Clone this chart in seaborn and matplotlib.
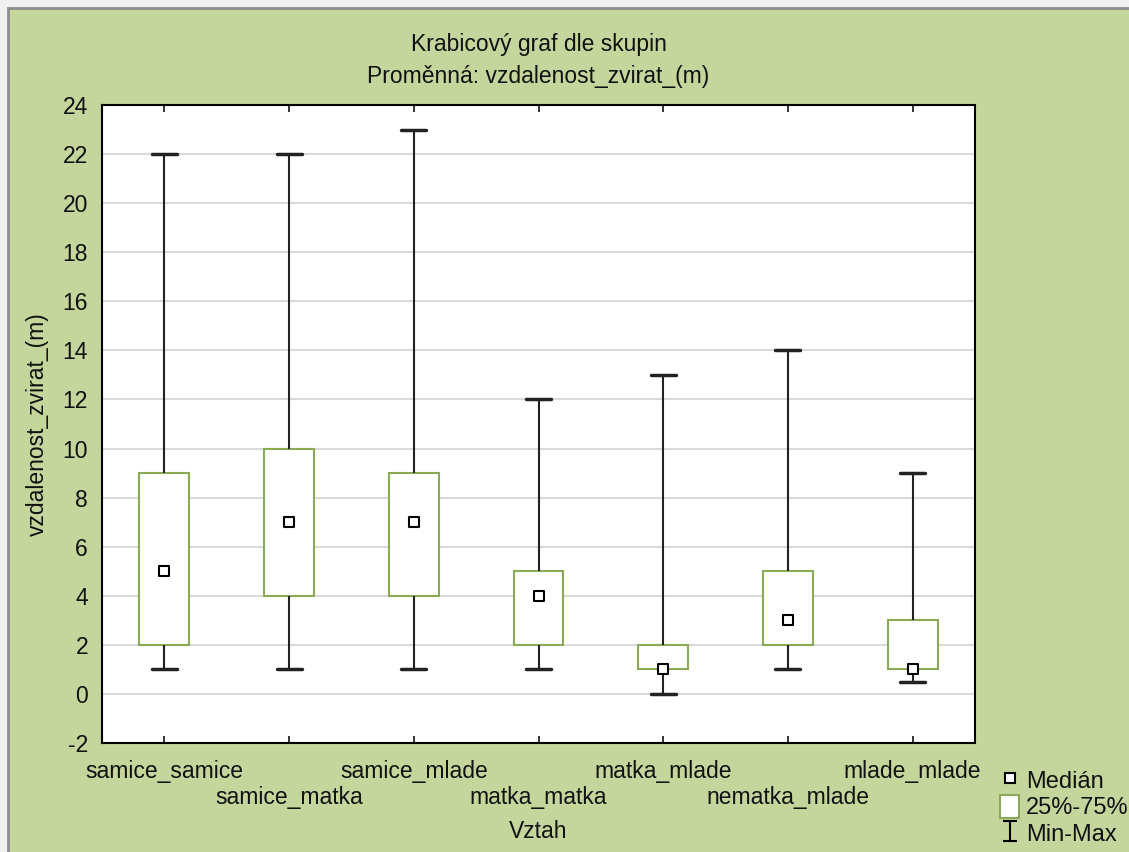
import numpy as np
import pandas as pd
import matplotlib
matplotlib.use("Agg")
import matplotlib.pyplot as plt
from matplotlib.lines import Line2D
from matplotlib.patches import Patch, Rectangle
from matplotlib.path import Path
import seaborn as sns

# group summaries (min, q1, median, q3, max)
groups = ["samice_samice", "samice_matka", "samice_mlade", "matka_matka",
          "matka_mlade", "nematka_mlade", "mlade_mlade"]
mins = [1, 1, 1, 1, 0, 1, 0.5]
q1s = [2, 4, 4, 2, 1, 2, 1]
medians = [5, 7, 7, 4, 1, 3, 1]
q3s = [9, 10, 9, 5, 2, 5, 3]
maxs = [22, 22, 23, 12, 13, 14, 9]
yticks = list(range(-2, 25, 2))

BG = "#c5d69d"
BOX_EDGE = "#8aaa55"


def main():
    # five values per group -> quartiles of these equal the summary exactly
    rows = []
    for g, a, b, c, d, e in zip(groups, mins, q1s, medians, q3s, maxs):
        for v in (a, b, c, d, e):
            rows.append({"Vztah": g, "value": v})
    df = pd.DataFrame(rows)

    sns.set_theme(style="white")
    plt.rcParams["font.family"] = ["Liberation Sans", "DejaVu Sans"]
    plt.rcParams["axes.unicode_minus"] = False
    plt.rcParams["text.color"] = "#111111"
    plt.rcParams["axes.labelcolor"] = "#111111"

    fig = plt.figure(figsize=(11.29, 8.52), dpi=100)
    fig.patch.set_facecolor("#f0f0f0")
    # green panel with grey frame on left/top
    fig.patches.append(Rectangle((8 / 1129, -0.1), 1.2, 1.1 - 8 / 852,
                                 transform=fig.transFigure, facecolor=BG,
                                 edgecolor="#8c8c8c", linewidth=2, zorder=-10))
    ax = fig.add_axes([102 / 1129, 1 - 743 / 852, (975 - 102) / 1129, (743 - 105) / 852])
    ax.set_facecolor("white")

    sns.boxplot(data=df, x="Vztah", y="value", order=groups, whis=(0, 100),
                width=0.4, color="white", linecolor="black", linewidth=1.5,
                boxprops=dict(edgecolor=BOX_EDGE, facecolor="white", linewidth=1.5),
                whiskerprops=dict(color="#222222", linewidth=1.5),
                capprops=dict(color="#222222", linewidth=2.5),
                medianprops=dict(visible=False), ax=ax, zorder=3)

    sns.stripplot(x=groups, y=medians, order=groups, jitter=False, marker="s",
                  size=7, color="white", edgecolor="black", linewidth=1.5,
                  ax=ax, zorder=6)

    ax.set_xlim(-0.5, len(groups) - 0.5)
    ax.set_ylim(-2, 24)
    ax.set_yticks(yticks)
    for y in yticks[1:-1]:
        ax.axhline(y, color="#dadada", linewidth=1.5, zorder=1)

    ax.set_xticks(range(len(groups)))
    ax.set_xticklabels(groups, fontsize=16.5)
    ax.tick_params(axis="x", direction="in", top=True, bottom=True, length=5,
                   width=1.2, pad=12, colors="#111111")
    ax.tick_params(axis="y", direction="in", left=True, right=True, length=5,
                   width=1.2, pad=10, labelsize=16.5, colors="#111111")
    # staggered category labels
    for i, tick in enumerate(ax.xaxis.get_major_ticks()):
        if i % 2 == 1:
            tick.set_pad(31)
    for s in ax.spines.values():
        s.set_color("black")
        s.set_linewidth(1.5)

    ax.set_xlabel("Vztah", fontsize=16.5, labelpad=8)
    ax.set_ylabel("vzdalenost_zvirat_(m)", fontsize=16.5, labelpad=10)
    ax.set_title("Krabicový graf dle skupin\nProměnná: vzdalenost_zvirat_(m)",
                 fontsize=16.5, linespacing=1.5, pad=16)

    whisk = Path([(0, -1), (0, 1), (-0.7, -1), (0.7, -1), (-0.7, 1), (0.7, 1)],
                 [Path.MOVETO, Path.LINETO, Path.MOVETO, Path.LINETO, Path.MOVETO, Path.LINETO])
    handles = [
        Line2D([], [], linestyle="none", marker="s", markersize=7,
               markerfacecolor="white", markeredgecolor="black", markeredgewidth=1.5),
        Patch(facecolor="white", edgecolor=BOX_EDGE, linewidth=1.5),
        Line2D([], [], linestyle="none", marker=whisk, markersize=14,
               markeredgecolor="black", markeredgewidth=1.5, color="black"),
    ]
    fig.legend(handles, ["Medián", "25%-75%", "Min-Max"],
               loc="upper left", bbox_to_anchor=(986 / 1129, 1 - 754 / 852),
               frameon=False, fontsize=17, handlelength=0.8, handleheight=1.1,
               handletextpad=0.3, labelspacing=0.1, borderpad=0.1)

    fig.savefig("out.png", dpi=100, facecolor=fig.get_facecolor())
    plt.close(fig)


if __name__ == "__main__":
    main()
